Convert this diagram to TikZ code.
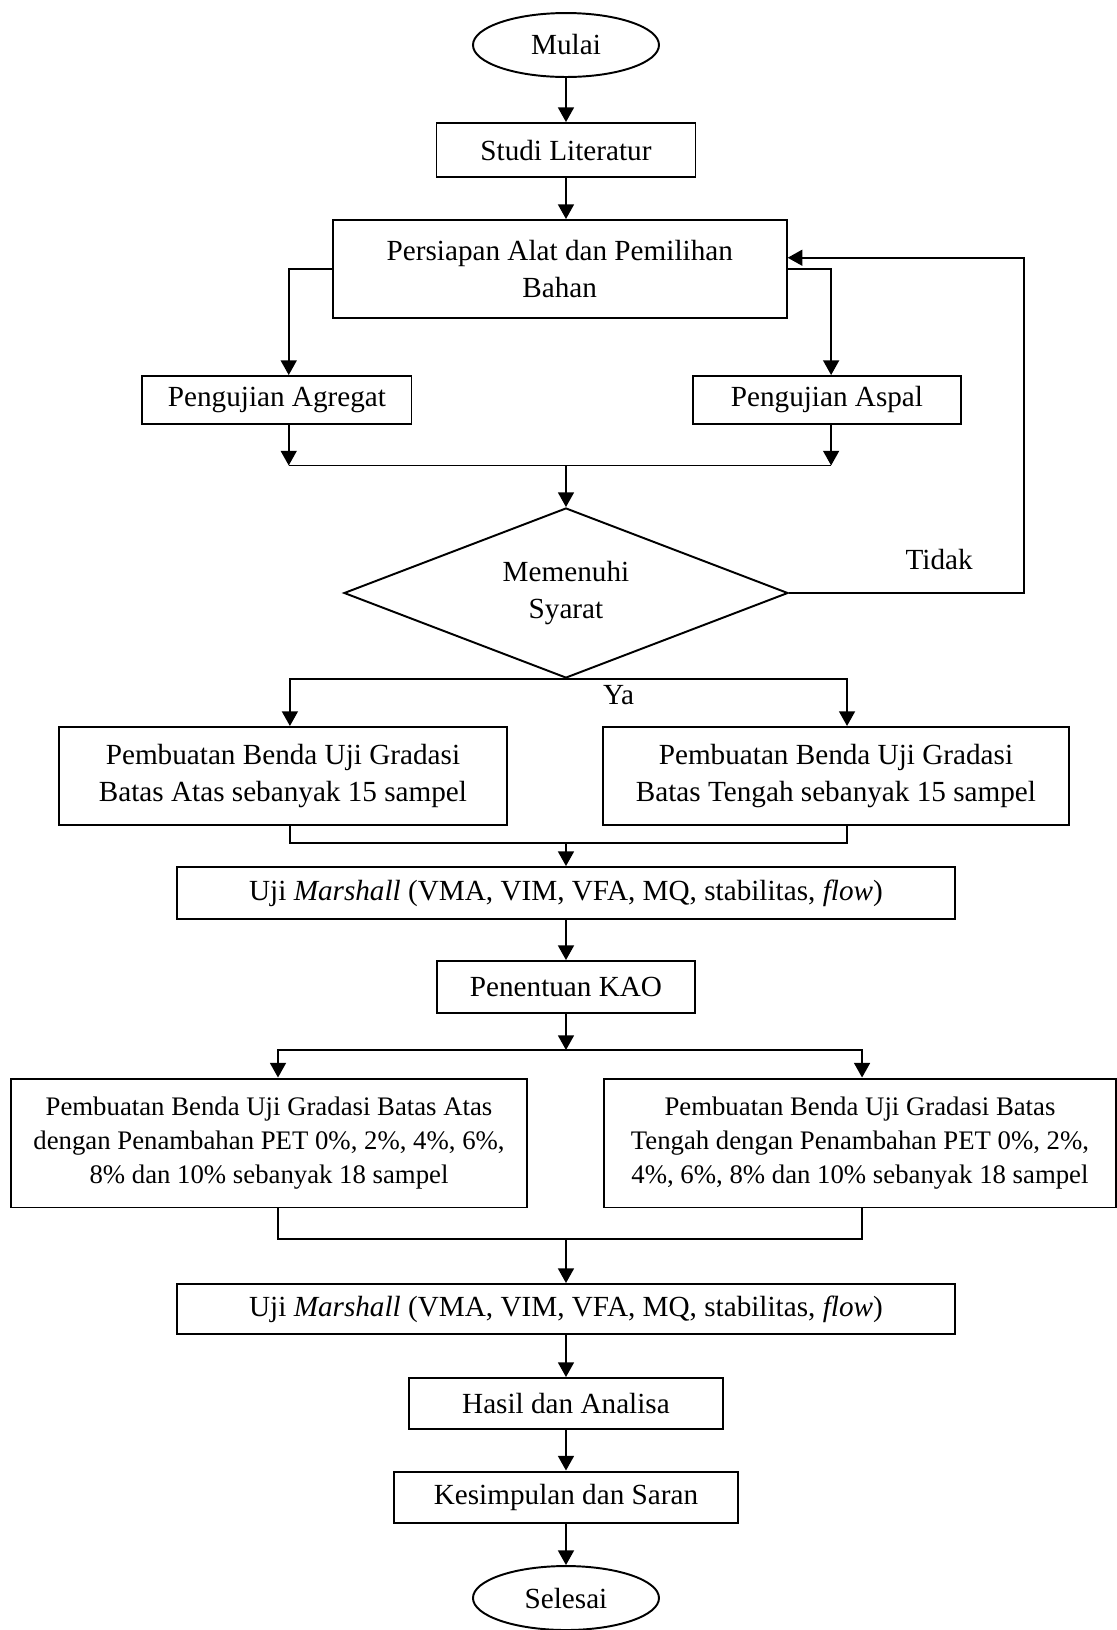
\documentclass[tikz,border=0pt]{standalone}
\usepackage{fontspec}
\setmainfont{Liberation Serif}
\usetikzlibrary{positioning}
\usetikzlibrary{arrows.meta}
\usetikzlibrary{shapes.geometric}

\begin{document}
\begin{tikzpicture}[node distance=1.5cm, thick,
    >={Triangle[length=6pt, width=6.5pt]},
    font=\fontsize{12}{15.5}\selectfont,
    term/.style={draw, ellipse, minimum width=2.687cm, minimum height=0.924cm, inner sep=0pt},
    proc/.style={draw, rectangle, align=center, inner sep=2pt},
    decide/.style={draw, diamond, aspect=2.612, align=center, inner sep=0pt, minimum width=6.414cm, minimum height=2.456cm},
    small/.style={font=\fontsize{11}{14}\selectfont}]
    \useasboundingbox (-8.176cm, 0.65cm) rectangle (7.959cm, -22.896cm);

    \node[term] (mulai) {Mulai};
    \node[proc, minimum width=3.741cm, minimum height=0.78cm] (studi) [below of=mulai, node distance=1.517cm] {Studi Literatur};
    \node[proc, minimum width=6.558cm, minimum height=1.416cm] (persiapan) [below of=studi, node distance=1.719cm, xshift=-0.09cm] {Persiapan Alat dan Pemilihan\\Bahan};
    \node[proc, minimum width=3.886cm, minimum height=0.693cm] (agregat) [below of=studi, node distance=3.611cm, xshift=-4.175cm] {Pengujian Agregat};
    \node[proc, minimum width=3.871cm, minimum height=0.693cm] (aspal) [below of=studi, node distance=3.611cm, xshift=3.77cm] {Pengujian Aspal};
    \node[decide] (syarat) [below of=studi, node distance=6.399cm] {Memenuhi\\Syarat};
    \node[proc, minimum width=6.471cm, minimum height=1.416cm] (atas) [below of=syarat, node distance=2.643cm, xshift=-4.088cm] {Pembuatan Benda Uji Gradasi\\Batas Atas sebanyak 15 sampel};
    \node[proc, minimum width=6.731cm, minimum height=1.416cm] (tengah) [below of=syarat, node distance=2.643cm, xshift=3.9cm] {Pembuatan Benda Uji Gradasi\\Batas Tengah sebanyak 15 sampel};
    \node[proc, minimum width=11.238cm, minimum height=0.751cm] (marshallA) [below of=syarat, node distance=4.334cm] {Uji \textit{Marshall} (VMA, VIM, VFA, MQ, stabilitas, \textit{flow})};
    \node[proc, minimum width=3.727cm, minimum height=0.751cm] (kao) [below of=marshallA, node distance=1.358cm] {Penentuan KAO};
    \node[proc, small, minimum width=7.454cm, minimum height=1.863cm] (petatas) [below of=kao, node distance=2.253cm, xshift=-4.29cm] {Pembuatan Benda Uji Gradasi Batas Atas\\dengan Penambahan PET 0\%, 2\%, 4\%, 6\%,\\8\% dan 10\% sebanyak 18 sampel};
    \node[proc, small, minimum width=7.396cm, minimum height=1.863cm] (pettengah) [below of=kao, node distance=2.253cm, xshift=4.247cm] {Pembuatan Benda Uji Gradasi Batas\\Tengah dengan Penambahan PET 0\%, 2\%,\\4\%, 6\%, 8\% dan 10\% sebanyak 18 sampel};
    \node[proc, minimum width=11.238cm, minimum height=0.722cm] (marshallB) [below of=kao, node distance=4.651cm] {Uji \textit{Marshall} (VMA, VIM, VFA, MQ, stabilitas, \textit{flow})};
    \node[proc, minimum width=4.536cm, minimum height=0.737cm] (hasil) [below of=marshallB, node distance=1.365cm] {Hasil dan Analisa};
    \node[proc, minimum width=4.969cm, minimum height=0.737cm] (saran) [below of=hasil, node distance=1.351cm] {Kesimpulan dan Saran};
    \node[term] (selesai) [below of=saran, node distance=1.459cm] {Selesai};

    % junctions
    \coordinate (j1) at ([yshift=0.6cm]syarat.north);
    \coordinate (j2) at ([yshift=0.34cm]marshallA.north);
    \coordinate (j3) at ([yshift=-0.52cm]kao.south);
    \coordinate (j4) at ([yshift=0.64cm]marshallB.north);

    \draw[->] (mulai) -- (studi);
    \draw[->] (studi) -- (studi |- persiapan.north);
    \draw[->] (persiapan.west) -| ([xshift=0.17cm]agregat.north);
    \draw[->] (persiapan.east) -| ([xshift=0.06cm]aspal.north);
    \draw[->] ([xshift=0.17cm]agregat.south) -- ([xshift=0.17cm]agregat.south |- j1);
    \draw[->] ([xshift=0.06cm]aspal.south) -- ([xshift=0.06cm]aspal.south |- j1);
    \draw ([xshift=0.17cm]agregat.south |- j1) -- ([xshift=0.06cm]aspal.south |- j1);
    \draw[->] (j1) -- (syarat.north);
    \draw[->] (syarat.east) -- ++(3.39cm,0) node[pos=0.64, above=6pt] (tidak) {Tidak} |- ([yshift=0.163cm]persiapan.east);
    \draw[->] (syarat.south) -| ([xshift=0.1cm]atas.north);
    \draw[->] (syarat.south) -| ([xshift=0.16cm]tengah.north);
    \node (ya) at ([xshift=0.76cm, yshift=-0.23cm]syarat.south) {Ya};
    \draw ([xshift=0.1cm]atas.south) |- (j2) -| ([xshift=0.16cm]tengah.south);
    \draw[->] (j2) -- (marshallA);
    \draw[->] (marshallA) -- (kao);
    \draw[->] (kao) -- (j3);
    \draw[->] (j3) -| ([xshift=0.13cm]petatas.north);
    \draw[->] (j3) -| ([xshift=0.03cm]pettengah.north);
    \draw ([xshift=0.13cm]petatas.south) |- (j4) -| ([xshift=0.03cm]pettengah.south);
    \draw[->] (j4) -- (marshallB);
    \draw[->] (marshallB) -- (hasil);
    \draw[->] (hasil) -- (saran);
    \draw[->] (saran) -- (selesai);
\end{tikzpicture}
\end{document}
